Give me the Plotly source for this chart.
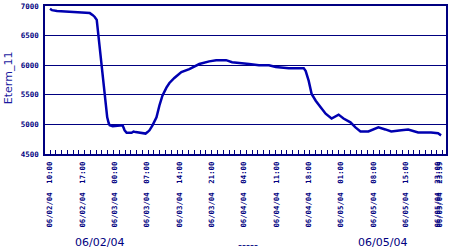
import plotly.graph_objects as go

# Sample times
times = [
    "2004-06-02 10:00", "2004-06-02 10:26", "2004-06-02 11:31", "2004-06-02 12:35",
    "2004-06-02 13:40", "2004-06-02 14:19", "2004-06-02 15:23", "2004-06-02 16:53",
    "2004-06-02 18:37", "2004-06-02 19:16", "2004-06-02 19:41", "2004-06-02 20:07",
    "2004-06-02 20:14", "2004-06-02 20:20", "2004-06-02 20:33", "2004-06-02 20:46",
    "2004-06-02 20:59", "2004-06-02 21:12", "2004-06-02 21:25", "2004-06-02 21:38",
    "2004-06-02 21:51", "2004-06-02 22:04", "2004-06-02 22:23", "2004-06-02 22:43",
    "2004-06-02 22:55", "2004-06-02 23:34", "2004-06-03 00:13", "2004-06-03 00:52",
    "2004-06-03 01:43", "2004-06-03 02:09", "2004-06-03 02:35", "2004-06-03 03:40",
    "2004-06-03 04:05", "2004-06-03 04:31", "2004-06-03 05:23", "2004-06-03 06:28",
    "2004-06-03 06:41", "2004-06-03 07:07", "2004-06-03 07:32", "2004-06-03 08:11",
    "2004-06-03 09:03", "2004-06-03 09:41", "2004-06-03 10:20", "2004-06-03 11:12",
    "2004-06-03 11:51", "2004-06-03 12:55", "2004-06-03 14:26", "2004-06-03 16:09",
    "2004-06-03 18:19", "2004-06-03 20:28", "2004-06-03 21:58", "2004-06-04 00:07",
    "2004-06-04 01:25", "2004-06-04 05:05", "2004-06-04 07:14", "2004-06-04 09:23",
    "2004-06-04 10:53", "2004-06-04 13:41", "2004-06-04 16:55", "2004-06-04 17:21",
    "2004-06-04 18:00", "2004-06-04 18:38", "2004-06-04 19:31", "2004-06-04 20:35",
    "2004-06-04 21:40", "2004-06-04 22:57", "2004-06-05 00:28", "2004-06-05 01:32",
    "2004-06-05 03:02", "2004-06-05 04:07", "2004-06-05 05:12", "2004-06-05 06:55",
    "2004-06-05 09:05", "2004-06-05 10:35", "2004-06-05 11:52", "2004-06-05 14:02",
    "2004-06-05 15:32", "2004-06-05 17:41", "2004-06-05 20:29", "2004-06-05 22:00",
    "2004-06-05 22:39",
]

eterm_11 = [
    6955, 6930, 6915, 6910, 6900, 6900, 6885, 6885,
    6880, 6845, 6815, 6765, 6680, 6515, 6370, 6230,
    6065, 5900, 5730, 5600, 5450, 5285, 5120, 5020,
    4985, 4970, 4975, 4985, 4985, 4900, 4860, 4860,
    4880, 4870, 4860, 4860, 4845, 4870, 4900, 4985,
    5120, 5320, 5485, 5620, 5700, 5785, 5885, 5935,
    6020, 6065, 6085, 6085, 6050, 6020, 6000, 6000,
    5970, 5950, 5950, 5900, 5735, 5515, 5400, 5290,
    5180, 5100, 5165, 5100, 5035, 4950, 4880, 4880,
    4950, 4915, 4880, 4900, 4915, 4865, 4865, 4850,
    4815,
]

tick_vals = [
    "2004-06-02 10:00", "2004-06-02 17:00", "2004-06-03 00:00", "2004-06-03 07:00",
    "2004-06-03 14:00", "2004-06-03 21:00", "2004-06-04 04:00", "2004-06-04 11:00",
    "2004-06-04 18:00", "2004-06-05 01:00", "2004-06-05 08:00", "2004-06-05 15:00",
    "2004-06-05 22:00", "2004-06-05 22:20",
]
tick_text = [
    "06/02/04  10:00", "06/02/04  17:00", "06/03/04  00:00", "06/03/04  07:00",
    "06/03/04  14:00", "06/03/04  21:00", "06/04/04  04:00", "06/04/04  11:00",
    "06/04/04  18:00", "06/05/04  01:00", "06/05/04  08:00", "06/05/04  15:00",
    "06/05/04  23:00", "06/05/04  23:59",
]

footer_labels = ["06/02/04", "-----", "06/05/04"]

NAVY = "#000080"

fig = go.Figure()
fig.add_trace(go.Scatter(
    x=times, y=eterm_11, mode="lines",
    line=dict(color="#0000b0", width=2.5),
    showlegend=False, hoverinfo="skip",
))

fig.update_layout(
    width=450, height=250,
    margin=dict(l=45, r=2, t=4, b=96),
    paper_bgcolor="white", plot_bgcolor="white",
    xaxis=dict(
        type="date",
        range=["2004-06-02 08:55", "2004-06-05 23:43"],
        tickmode="array", tickvals=tick_vals, ticktext=tick_text,
        tickangle=-90,
        tickfont=dict(family="DejaVu Sans Mono", size=7.3, color=NAVY, weight="bold"),
        ticks="", ticklabelstandoff=3,
        showgrid=False, zeroline=False,
        showline=True, linecolor=NAVY, linewidth=1.5, mirror=True,
        minor=dict(ticks="inside", ticklen=4, tickcolor=NAVY, tickwidth=1,
                   dtick=75 * 60 * 1000, tick0="2004-06-02 10:00", showgrid=False),
    ),
    yaxis=dict(
        range=[4500, 7000], dtick=500, tick0=4500,
        tickfont=dict(family="DejaVu Sans Mono", size=7.5, color=NAVY, weight="bold"),
        ticks="", ticklabelstandoff=3, ticklabeloverflow="allow",
        showgrid=True, gridcolor=NAVY, gridwidth=1.2,
        zeroline=False,
        showline=True, linecolor=NAVY, linewidth=1.5, mirror=True,
    ),
    annotations=[
        dict(text="Eterm_11", xref="paper", yref="paper", x=-0.092, y=0.513,
             textangle=-90, showarrow=False, xanchor="center", yanchor="middle",
             font=dict(family="DejaVu Sans", size=11, color="#1a1aa0")),
        dict(text=footer_labels[0], xref="paper", yref="paper", x=0.135, y=-0.6,
             showarrow=False, xanchor="center", yanchor="middle",
             font=dict(family="DejaVu Sans", size=11, color=NAVY)),
        dict(text=footer_labels[1], xref="paper", yref="paper", x=0.506, y=-0.61,
             showarrow=False, xanchor="center", yanchor="middle",
             font=dict(family="DejaVu Sans", size=11, color=NAVY)),
        dict(text=footer_labels[2], xref="paper", yref="paper", x=0.842, y=-0.6,
             showarrow=False, xanchor="center", yanchor="middle",
             font=dict(family="DejaVu Sans", size=11, color=NAVY)),
    ],
)

fig.write_html("out.html")
